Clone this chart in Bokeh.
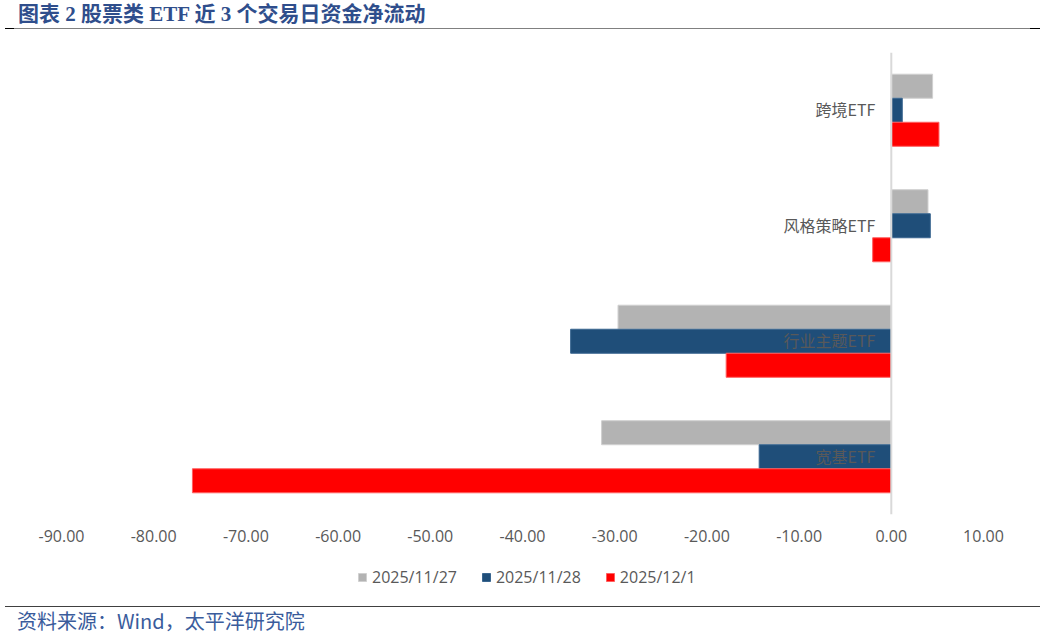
from bokeh.plotting import figure
from bokeh.layouts import column
from bokeh.models import (FactorRange, Range1d, FixedTicker, NumeralTickFormatter, Span,
                          Legend, LegendItem, ColumnDataSource, Div)
from bokeh.transform import dodge
from bokeh.core.properties import value
from bokeh.embed import file_html
from bokeh.resources import INLINE

# ---------------- data ----------------
categories = ["宽基ETF", "行业主题ETF", "风格策略ETF", "跨境ETF"]
series_names = ["2025/11/27", "2025/11/28", "2025/12/1"]
vals_1127 = [-31.42, -29.64, 3.98, 4.48]
vals_1128 = [-14.33, -34.78, 4.23, 1.19]
vals_1201 = [-75.80, -17.91, -2.02, 5.17]
x_ticks = [-90, -80, -70, -60, -50, -40, -30, -20, -10, 0, 10]
title_text = "图表 2 股票类 ETF 近 3 个交易日资金净流动"
source_text = "资料来源：Wind，太平洋研究院"

# ---------------- styles ----------------
colors = ["#B3B3B3", "#1F4E79", "#FF0000"]
edge_colors = ["#D0D0D0", "#3A6690", "#FF6060"]
text_gray = "#595959"
title_blue = "#2F4E8C"

ML, MR, MT, MB = 61, 57, 23, 42
FW, FH = 922, 462
TOTAL_W = ML + FW + MR

src = ColumnDataSource(dict(cat=categories, v0=vals_1127, v1=vals_1128, v2=vals_1201,
                            zero=[0] * len(categories)))

p = figure(frame_width=FW, frame_height=FH, x_range=Range1d(x_ticks[0], x_ticks[-1]),
           y_range=FactorRange(*categories, range_padding=0),
           output_backend="svg", toolbar_location=None, y_axis_location=None,
           min_border_left=ML, min_border_right=MR, min_border_top=MT, min_border_bottom=MB,
           margin=(0, 0, 0, 0))
p.outline_line_color = None
p.xgrid.visible = False
p.ygrid.visible = False
p.background_fill_color = "white"
p.border_fill_color = "white"

bh = 0.208
offsets = [bh, 0.0, -bh]
cols = ["v0", "v1", "v2"]
for col, off, c, ec in zip(cols, offsets, colors, edge_colors):
    p.hbar(y=dodge("cat", off, range=p.y_range), left=0, right=col, height=bh,
           source=src, fill_color=c, line_color=ec, line_width=1)

p.add_layout(Span(location=0, dimension="height", line_color="#D9D9D9", line_width=2))

# category labels next to the zero line
p.text(x="zero", y="cat", text="cat", source=src, x_offset=-16, y_offset=-1,
       text_align="right", text_baseline="middle", text_font=value("Noto Sans CJK SC"),
       text_font_size="16px", text_color=text_gray)

# x axis
ax = p.xaxis[0]
ax.ticker = FixedTicker(ticks=x_ticks)
ax.formatter = NumeralTickFormatter(format="0.00")
ax.axis_line_color = None
ax.major_tick_line_color = None
ax.minor_tick_line_color = None
ax.major_tick_out = 0
ax.major_tick_in = 0
ax.major_label_standoff = 15
ax.major_label_text_font = "Open Sans"
ax.major_label_text_font_size = "16px"
ax.major_label_text_color = text_gray

# ---------------- legend strip (own small figure sharing the ranges) ----------------
LH = 50
lf = figure(width=TOTAL_W, height=LH, x_range=p.x_range, y_range=p.y_range,
            output_backend="svg", toolbar_location=None, x_axis_location=None,
            y_axis_location=None, min_border=0, margin=(0, 0, 0, 0))
lf.outline_line_color = None
lf.xgrid.visible = False
lf.ygrid.visible = False
lrends = []
for col, off, c, ec in zip(cols, offsets, colors, edge_colors):
    r = lf.hbar(y=dodge("cat", off, range=lf.y_range), left=0, right=col, height=bh,
                source=src, fill_color=c, line_color=ec, line_width=1, visible=False)
    lrends.append(r)
legend = Legend(items=[LegendItem(label=n, renderers=[r]) for n, r in zip(series_names, lrends)],
                orientation="horizontal", location=(296, 18),
                glyph_width=10, glyph_height=10, label_standoff=5, spacing=24,
                label_text_font="Open Sans", label_text_font_size="16px",
                label_text_color=text_gray, border_line_color=None,
                background_fill_alpha=0, padding=0, margin=0,
                click_policy="none", inactive_fill_alpha=0)
lf.add_layout(legend, "center")

title_div = Div(text=title_text, width=TOTAL_W - 5, height=29, margin=(0, 0, 0, 5),
                styles={"font-family": "'Liberation Serif', 'Noto Sans CJK SC', serif",
                        "font-size": "21px", "font-weight": "bold", "color": title_blue,
                        "line-height": "29px", "padding-left": "13px",
                        "box-sizing": "border-box",
                        "border-bottom": "1.5px solid #808080",
                        "border-image": "linear-gradient(to right, #000 0, #000 10px, #808080 10px, #808080 calc(100% - 11px), #000 calc(100% - 11px)) 1",
                        "white-space": "nowrap"})

source_div = Div(text=source_text, width=TOTAL_W - 5, height=31, margin=(0, 0, 0, 5),
                 styles={"font-family": "'Noto Sans CJK SC', sans-serif",
                         "font-size": "20px", "color": "#3A5C9C",
                         "line-height": "27px", "padding-left": "12px",
                         "box-sizing": "border-box",
                         "border-top": "1.5px solid #404040",
                         "white-space": "nowrap"})

layout = column(title_div, p, lf, source_div, spacing=0)

open("out.html", "w").write(file_html(layout, INLINE))
